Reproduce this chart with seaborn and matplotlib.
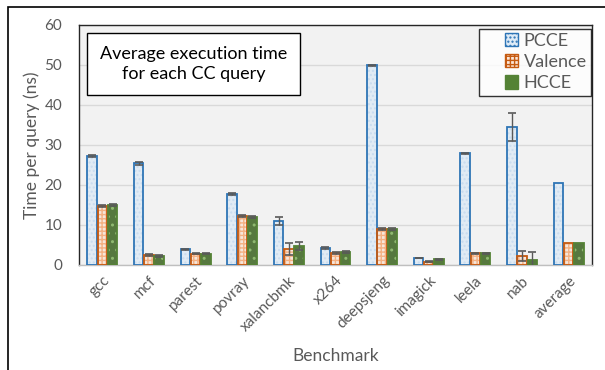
import matplotlib
matplotlib.use("Agg")
import matplotlib.pyplot as plt
from matplotlib.patches import Rectangle, Patch
from matplotlib.legend_handler import HandlerPatch
import seaborn as sns
import pandas as pd
import numpy as np

benchmarks = ["gcc", "mcf", "parest", "povray", "xalancbmk", "x264",
              "deepsjeng", "imagick", "leela", "nab", "average"]
series = ["PCCE", "Valence", "HCCE"]

pcce = [27.2, 25.4, 3.9, 17.8, 11.0, 4.3, 49.9, 1.75, 27.9, 34.4, 20.4]
valence = [14.8, 2.5, 2.8, 12.3, 4.0, 3.0, 9.0, 0.8, 2.9, 2.25, 5.4]
hcce = [15.0, 2.25, 2.8, 12.1, 4.75, 3.3, 9.0, 1.4, 2.9, 1.25, 5.4]

pcce_err = [0.25, 0.3, 0.1, 0.25, 1.0, 0.2, 0.2, 0.1, 0.2, 3.5, 0.0]
valence_err = [0.2, 0.3, 0.1, 0.25, 1.5, 0.2, 0.2, 0.1, 0.2, 1.2, 0.0]
hcce_err = [0.2, 0.3, 0.1, 0.25, 1.0, 0.2, 0.2, 0.1, 0.2, 1.9, 0.0]

values = {"PCCE": pcce, "Valence": valence, "HCCE": hcce}
errors = {"PCCE": pcce_err, "Valence": valence_err, "HCCE": hcce_err}

rows = []
for s in series:
    for b, v in zip(benchmarks, values[s]):
        rows.append({"Benchmark": b, "Series": s, "Time": v})
df = pd.DataFrame(rows)

sns.set_theme(style="white")
plt.rcParams["font.family"] = ["Lato", "DejaVu Sans"]
grey = "#595959"

# fill colour, hatch, hatch colour, edge colour per series
styles = {
    "PCCE": ("#deebf7", "....", "#c9dcef", "#2e75b6"),
    "Valence": ("#fbe5d6", "++++", "#f4b183", "#c55a11"),
    "HCCE": ("#548235", "..", "#8fb870", "#548235"),
}

fig = plt.figure(figsize=(6.05, 3.70), dpi=100)
ax = fig.add_axes([79 / 605, 1 - 265 / 370, (592 - 79) / 605, (265 - 25) / 370])
ax.set_facecolor("#f2f2f2")

sns.barplot(data=df, x="Benchmark", y="Time", hue="Series", order=benchmarks,
            hue_order=series, errorbar=None, width=0.66, gap=0.08,
            palette={s: styles[s][0] for s in series}, legend=False, ax=ax,
            zorder=3)

for container, s in zip(ax.containers, series):
    fc, hatch, hc, ec = styles[s]
    xs, ys = [], []
    for patch in container.patches:
        patch.set_hatch(hatch)
        patch.set_edgecolor(hc)
        patch.set_linewidth(0)
        x0, y0 = patch.get_x(), patch.get_y()
        w, h = patch.get_width(), patch.get_height()
        ax.add_patch(Rectangle((x0, y0), w, h, fill=False, edgecolor=ec,
                               linewidth=1.3, zorder=4))
        xs.append(x0 + w / 2)
        ys.append(h)
    err = np.array(errors[s])
    mask = err > 0
    ax.errorbar(np.array(xs)[mask], np.array(ys)[mask], yerr=err[mask],
                fmt="none", ecolor=grey, elinewidth=1.0, capsize=3,
                capthick=1.2, zorder=5)

ax.set_ylim(0, 60)
ax.set_yticks(range(0, 61, 10))
ax.set_xlim(-0.5, len(benchmarks) - 0.5)
ax.yaxis.grid(True, color="#d9d9d9", linewidth=1.0, zorder=0)
ax.set_axisbelow(True)
for side in ["top", "right", "left"]:
    ax.spines[side].set_color("#262626")
    ax.spines[side].set_linewidth(1.0)
ax.spines["bottom"].set_color("#bfbfbf")
ax.spines["bottom"].set_linewidth(1.0)

ax.tick_params(axis="y", labelsize=11, labelcolor=grey, length=0, pad=12)
ax.tick_params(axis="x", labelsize=11, labelcolor=grey, length=0, pad=6)
plt.setp(ax.get_xticklabels(), rotation=45, ha="right", rotation_mode="anchor")

ax.set_ylabel("Time per query (ns)", fontsize=12.5, color=grey, labelpad=3)
ax.set_xlabel("Benchmark", fontsize=12.5, color=grey)
ax.xaxis.set_label_coords(0.5, -0.345)

# title box in the upper left of the plot area
ax.text(0.223, 0.8375, "Average execution time\nfor each CC query",
        transform=ax.transAxes, ha="center", va="center", fontsize=13,
        color="black", linespacing=1.3, zorder=6,
        bbox=dict(boxstyle="square,pad=0.72", facecolor="white",
                  edgecolor="black", linewidth=1.0))


def small_square(legend, orig_handle, xdescent, ydescent, width, height, fontsize):
    side = height * 1.05
    return Rectangle((width - side - xdescent, -ydescent + (height - side) / 2),
                     side, side)


handles = [Patch(facecolor=styles[s][0], hatch=styles[s][1],
                 edgecolor=styles[s][3], linewidth=1.0) for s in series]
leg = ax.legend(handles, series, loc="upper right",
                bbox_to_anchor=(0.9985, 0.985),
                frameon=True, fancybox=False, fontsize=13, labelcolor=grey,
                handlelength=1.9, handleheight=0.7, handletextpad=0.3,
                borderpad=0.25, labelspacing=0.28, borderaxespad=0.0,
                handler_map={Patch: HandlerPatch(patch_func=small_square)})
leg.get_frame().set_edgecolor("black")
leg.get_frame().set_linewidth(1.0)
leg.set_zorder(6)

# outer frame of the figure
fig.patches.append(Rectangle((8 / 605, -0.1), 1.2, 1 - 7 / 370 + 0.1,
                             transform=fig.transFigure, fill=False,
                             edgecolor="black", linewidth=1.2))

fig.savefig("out.png", dpi=100)
